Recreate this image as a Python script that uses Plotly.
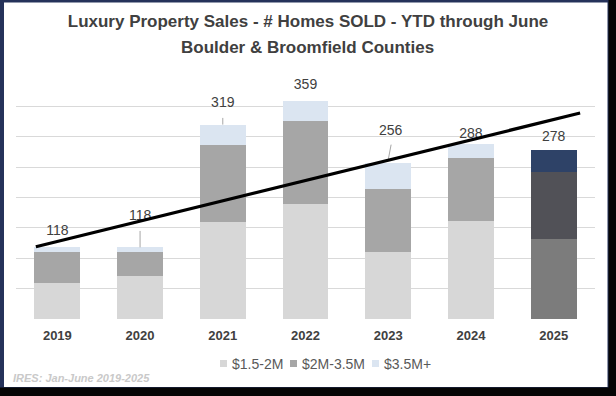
import plotly.graph_objects as go

# ---- data ----
years = [2019, 2020, 2021, 2022, 2023, 2024, 2025]
tier_15_2m = [60, 70, 159, 190, 110, 162, 132]
tier_2_35m = [51, 40, 127, 136, 104, 103, 110]
tier_35m_plus = [7, 8, 33, 33, 42, 23, 36]
totals = [118, 118, 319, 359, 256, 288, 278]
series_names = ["$1.5-2M", "$2M-3.5M", "$3.5M+"]
trend_years = [2018.74, 2025.32]
trend_values = [119, 339]
title_lines = ["Luxury Property Sales - # Homes SOLD - YTD through June",
               "Boulder & Broomfield Counties"]
source_text = "IRES: Jan-June 2019-2025"

# ---- style ----
W, H = 616, 396
ML, MR, MT, MB = 16, 21, 76, 77
PW, PH = W - ML - MR, H - MT - MB


def px_x(px):
    return (px - ML) / PW


def px_y(py):
    return (H - MB - py) / PH


base_colors = ["#d7d7d7", "#a6a6a6", "#dbe5f1"]
last_colors = ["#7c7c7c", "#515157", "#2e4267"]
label_offset = [26, 50, 36, 25, 52, 15, 20]  # label centre above bar top (value units)
label_dx = [0, 0, 0, 0, 0.03, 0, 0]
FONT = "Liberation Sans, Arial, sans-serif"

fig = go.Figure()
for name, vals, bc, lc in zip(series_names, [tier_15_2m, tier_2_35m, tier_35m_plus], base_colors, last_colors):
    cols = [bc] * (len(years) - 1) + [lc]
    fig.add_trace(go.Bar(
        x=years, y=vals, name=name, width=0.555,
        marker=dict(color=cols, line=dict(width=0)),
        hoverinfo="skip", showlegend=False,
    ))

# leader lines for a few labels
lx, ly = [], []
for yr, t in zip(years, totals):
    if yr == 2020:
        lx += [yr, yr, None]; ly += [t, t + 27, None]
    elif yr == 2021:
        lx += [yr, yr, None]; ly += [t + 1, t + 12, None]
    elif yr == 2023:
        lx += [yr, yr + 0.035, None]; ly += [t + 6, t + 31, None]
fig.add_trace(go.Scatter(x=lx, y=ly, mode="lines", line=dict(color="#a6a6a6", width=1),
                         showlegend=False, hoverinfo="skip"))

# total labels
fig.add_trace(go.Scatter(
    x=[y + d for y, d in zip(years, label_dx)],
    y=[t + o for t, o in zip(totals, label_offset)],
    text=[str(t) for t in totals], mode="text", textposition="middle center",
    textfont=dict(family=FONT, size=14, color="#404040"),
    showlegend=False, hoverinfo="skip",
))

# trend line (drawn on top)
fig.add_trace(go.Scatter(x=trend_years, y=trend_values, mode="lines",
                         line=dict(color="#000000", width=3.2),
                         showlegend=False, hoverinfo="skip"))

shapes = [
    dict(type="rect", xref="paper", yref="paper", layer="below",
         x0=px_x(0), x1=px_x(608.5), y0=px_y(387.5), y1=px_y(0),
         fillcolor="#25325a", line=dict(width=0)),
    dict(type="rect", xref="paper", yref="paper", layer="below",
         x0=px_x(4), x1=px_x(607.5), y0=px_y(387), y1=px_y(2.5),
         fillcolor="#ffffff", line=dict(width=0)),
]

title_font = dict(family=FONT, size=17, color="#404040", weight="bold")
annotations = [
    dict(text=title_lines[1], xref="paper", yref="paper",
         x=px_x(307), xanchor="center", y=px_y(47), yanchor="middle",
         showarrow=False, font=title_font),
    dict(text=source_text, xref="paper", yref="paper",
         x=px_x(11), xanchor="left", y=px_y(378), yanchor="middle", showarrow=False,
         font=dict(family=FONT, size=11, color="#c9c9c9", style="italic", weight="bold")),
]

# compact legend: swatch + label per series
legend_swatch_px = [220, 290, 372]
for name, col, sx in zip(series_names, base_colors, legend_swatch_px):
    shapes.append(dict(type="rect", xref="paper", yref="paper",
                       x0=px_x(sx), x1=px_x(sx + 7), y0=px_y(367), y1=px_y(360),
                       fillcolor=col, line=dict(width=0)))
    annotations.append(dict(text=name, xref="paper", yref="paper",
                            x=px_x(sx + 10), xanchor="left", y=px_y(363.5), yanchor="middle",
                            showarrow=False,
                            font=dict(family=FONT, size=14, color="#595959")))

fig.update_layout(
    width=W, height=H,
    margin=dict(l=ML, r=MR, t=MT, b=MB, pad=0),
    paper_bgcolor="#050505", plot_bgcolor="rgba(0,0,0,0)",
    barmode="stack",
    showlegend=False,
    shapes=shapes,
    annotations=annotations,
    title=dict(
        text=title_lines[0],
        x=308 / W, xanchor="center",
        y=1 - 21 / H, yanchor="middle",
        font=title_font,
    ),
    xaxis=dict(
        range=[2018.5, 2025.5], tickvals=years, ticktext=[str(y) for y in years],
        showgrid=False, showline=False, zeroline=False, ticks="",
        ticklabelstandoff=7,
        tickfont=dict(family=FONT, size=13, color="#404040", weight="bold"),
        fixedrange=True,
    ),
    yaxis=dict(
        range=[0, 400], dtick=50, showticklabels=False, ticks="",
        showgrid=True, gridcolor="#d9d9d9", gridwidth=1, zeroline=False,
        fixedrange=True,
    ),
)

fig.write_html("out.html", config={"displayModeBar": False},
               post_script="document.body.style.margin='0px';")
